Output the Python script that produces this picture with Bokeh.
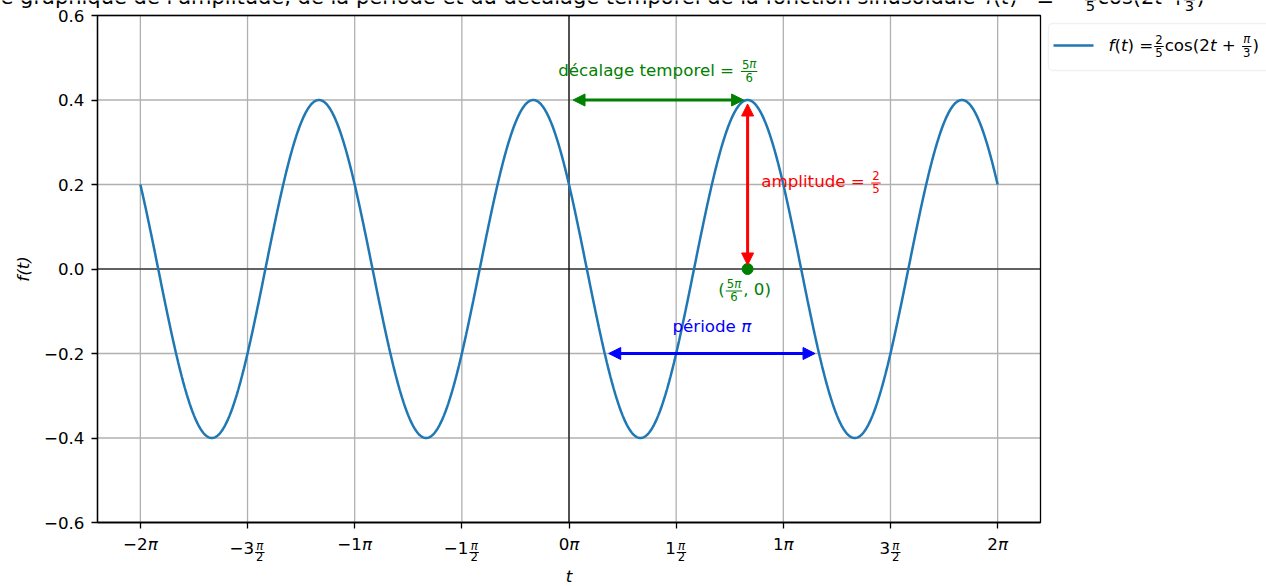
import numpy as np
from bokeh.plotting import figure
from bokeh.models import (Label, Arrow, NormalHead, FixedTicker, BoxAnnotation,
                          Range1d, CustomJSTickFormatter)
from bokeh.embed import file_html
from bokeh.resources import INLINE

# ---------------- data ----------------
AMPLITUDE = 2 / 5          # 2/5
OMEGA = 2.0                # 2t
PHASE = np.pi / 3          # + pi/3
T_START = -2 * np.pi
T_END = 2 * np.pi
N_SAMPLES = 1201

SHIFT = 5 * np.pi / 6      # décalage temporel
PERIOD = np.pi             # période
PERIOD_START = np.pi / 6
PERIOD_LEVEL = -0.2

X_TICK_VALUES = [k * np.pi / 2 for k in range(-4, 5)]
X_TICK_LABELS = ["−2π", "−3π/2", "−1π", "−1π/2", "0π", "1π/2", "1π", "3π/2", "2π"]
Y_TICK_VALUES = [-0.6, -0.4, -0.2, 0.0, 0.2, 0.4, 0.6]
Y_TICK_LABELS = ["−0.6", "−0.4", "−0.2", "0.0", "0.2", "0.4", "0.6"]

TITLE_TEXT = ("Analyse graphique de l'amplitude, de la période et du décalage "
              "temporel de la fonction sinusoïdale")

# ---------------- layout ----------------
W, H = 1266, 586
FL, FR, FT, FB = 97, 1040, 15, 522          # plotting area inside the canvas
XLO = T_START - 0.05 * (T_END - T_START)
XHI = T_END + 0.05 * (T_END - T_START)
YLO, YHI = -0.6, 0.6
FONT = "DejaVu Sans"
FS = 16.7
CURVE = "#1f77b4"
BASE_K = 0.47     # correction so that labels sit on the wanted baseline


def X(px):
    return XLO + (px - FL) / (FR - FL) * (XHI - XLO)


def Y(py):
    return YHI - (py - FT) / (FB - FT) * (YHI - YLO)


def PX(x):
    return FL + (x - XLO) / (XHI - XLO) * (FR - FL)


def PY(y):
    return FT + (YHI - y) / (YHI - YLO) * (FB - FT)


ADV = {' ': 651, '(': 799, ')': 799, ',': 651, '.': 651, '=': 1716, '+': 1716, '−': 1716,
       "'": 563, 'a': 1255, 'b': 1300, 'c': 1126, 'd': 1300, 'e': 1260, 'f': 721, 'g': 1300,
       'h': 1298, 'i': 569, 'j': 569, 'k': 1186, 'l': 569, 'm': 1995, 'n': 1298, 'o': 1253,
       'p': 1300, 'q': 1300, 'r': 842, 's': 1067, 't': 803, 'u': 1298, 'v': 1212, 'w': 1675,
       'x': 1212, 'y': 1212, 'z': 1075, 'é': 1260, 'ï': 569, 'A': 1401, 'R': 1423, 'π': 1233}
for d in "0123456789":
    ADV[d] = 1303


def tw(s, size):
    return sum(ADV.get(c, 1200) for c in s) / 2048 * size


# the frame covers the whole canvas; axes are pinned at the plotting-area edges
p = figure(width=W, height=H, output_backend="svg", toolbar_location=None,
           x_range=Range1d(X(0), X(W)), y_range=Range1d(Y(H), Y(0)),
           min_border=0)
p.background_fill_color = "white"
p.border_fill_color = "white"
p.outline_line_color = None
p.grid.visible = False

for ax in (p.xaxis[0], p.yaxis[0]):
    ax.axis_line_color = "black"
    ax.axis_line_width = 1.3
    ax.major_tick_line_color = "black"
    ax.major_tick_line_width = 1.3
    ax.major_tick_in = 0
    ax.major_tick_out = 6
    ax.minor_tick_line_color = None
    ax.major_label_text_font = FONT
    ax.major_label_text_font_size = f"{FS}px"
    ax.major_label_text_color = "black"

p.xaxis.fixed_location = YLO
p.xaxis.bounds = (XLO, XHI)
p.xaxis.ticker = FixedTicker(ticks=X_TICK_VALUES, minor_ticks=[])
p.xaxis.formatter = CustomJSTickFormatter(code="return ''")
p.yaxis.fixed_location = XLO
p.yaxis.bounds = (YLO, YHI)
p.yaxis.ticker = FixedTicker(ticks=Y_TICK_VALUES, minor_ticks=[])
p.yaxis.major_label_overrides = {v: s for v, s in zip(Y_TICK_VALUES, Y_TICK_LABELS)}
p.yaxis.major_label_standoff = 7

# grid lines at the tick positions
p.segment(x0=X_TICK_VALUES, y0=[YLO] * len(X_TICK_VALUES), x1=X_TICK_VALUES,
          y1=[YHI] * len(X_TICK_VALUES), line_color="#b0b0b0", line_width=1.3, level="underlay")
p.segment(x0=[XLO] * len(Y_TICK_VALUES), y0=Y_TICK_VALUES, x1=[XHI] * len(Y_TICK_VALUES),
          y1=Y_TICK_VALUES, line_color="#b0b0b0", line_width=1.3, level="underlay")
# zero lines
p.segment(x0=[XLO, 0], y0=[0, YLO], x1=[XHI, 0], y1=[0, YHI], line_color="black",
          line_width=1.2, level="underlay")
# plotting-area box
p.quad(left=[XLO], right=[XHI], bottom=[YLO], top=[YHI], fill_color=None,
       line_color="black", line_width=1.3)

# curve
t = np.linspace(T_START, T_END, N_SAMPLES)
f = AMPLITUDE * np.cos(OMEGA * t + PHASE)
p.line(t, f, line_color=CURVE, line_width=2.5)


# ---------------- text helpers ----------------
def lab(px, py, txt, size, color, style="normal", align="left"):
    p.add_layout(Label(x=X(px), y=Y(py - BASE_K * size), text=txt, text_font=FONT,
                       text_font_size=f"{size:.1f}px", text_font_style=style,
                       text_color=color, text_align=align, text_baseline="alphabetic"))


def hbar(x0, x1, py, color, w=1.0):
    p.add_layout(Arrow(x_start=X(x0), y_start=Y(py), x_end=X(x1), y_end=Y(py),
                       start=None, end=None, line_color=color, line_width=w))


def runs(text, math):
    if not math:
        return [(text, "normal")]
    out = []
    for ch in text:
        st = "italic" if ((ch.isascii() and ch.isalpha()) or ch == "π") else "normal"
        if out and out[-1][1] == st:
            out[-1] = (out[-1][0] + ch, st)
        else:
            out.append((ch, st))
    return out


def place_runs(x, py, text, size, color, math):
    for s, st in runs(text, math):
        body = s.lstrip(" ")
        lead = tw(s[:len(s) - len(body)], size)
        if body.strip():
            lab(x + lead, py, body.rstrip(" "), size, color, style=st)
        x += tw(s, size)
    return x


def frac_w(num, den, size):
    fs = size * 0.7
    return max(tw(num, fs), tw(den, fs)) + 4


def frac(cx, base, num, den, size, color, bar_dy=-6.0, num_dy=-2.0, den_dy=11.0):
    fs = size * 0.7
    w = frac_w(num, den, size)
    bar = base + bar_dy
    for txt, d in ((num, num_dy), (den, den_dy)):
        place_runs(cx - tw(txt, fs) / 2, bar + d, txt, fs, color, True)
    hbar(cx - w / 2 + 1, cx + w / 2 - 1, bar, color)


def mixed(parts, anchor, base, size, color, align="left", **fk):
    widths = [frac_w(pt[1], pt[2], size) if pt[0] == "frac" else tw(pt[1], size)
              for pt in parts]
    total = sum(widths)
    x = anchor - {"left": 0, "center": total / 2, "right": total}[align]
    for pt, w in zip(parts, widths):
        if pt[0] == "frac":
            frac(x + w / 2, base, pt[1], pt[2], size, color, **fk)
        else:
            place_runs(x, base, pt[1], size, color, pt[0] == "m")
        x += w


# ---------------- annotations ----------------
def arrow(x0, y0, x1, y1, color):
    p.add_layout(Arrow(x_start=x0, y_start=y0, x_end=x1, y_end=y1,
                       start=NormalHead(size=12, fill_color=color, line_color=color, line_width=1),
                       end=NormalHead(size=12, fill_color=color, line_color=color, line_width=1),
                       line_color=color, line_width=3))


dx = (XHI - XLO) / (FR - FL) * 4
dy = (YHI - YLO) / (FB - FT) * 4
arrow(0 + dx, AMPLITUDE, SHIFT - dx, AMPLITUDE, "green")
arrow(PERIOD_START + dx, PERIOD_LEVEL, PERIOD_START + PERIOD - dx, PERIOD_LEVEL, "blue")
arrow(SHIFT, 0 + dy, SHIFT, AMPLITUDE - dy, "red")
p.scatter([SHIFT], [0], size=11, color="green")

mixed([("p", "décalage temporel = "), ("frac", "5π", "6")],
      PX(SHIFT / 2), PY(AMPLITUDE) - 22.5, FS, "green", align="center")
mixed([("p", "amplitude = "), ("frac", "2", "5")],
      PX(SHIFT + 0.2), PY(AMPLITUDE / 2) + 4.5, FS, "red", align="left")
mixed([("m", "("), ("frac", "5π", "6"), ("m", ", 0)")],
      PX(SHIFT) - 3, PY(0) + 28, FS, "green", align="center")
mixed([("p", "période "), ("m", "π")],
      PX(PERIOD_START + PERIOD / 2), PY(PERIOD_LEVEL) - 20, FS, "blue", align="center")

# x tick labels (integer part followed by π or by the fraction π/2)
for v, s in zip(X_TICK_VALUES, X_TICK_LABELS):
    if s.endswith("π/2"):
        mixed([("m", s[:-3]), ("frac", "π", "2")], PX(v), 555, FS, "black",
              align="center", bar_dy=-3, num_dy=-1.5, den_dy=9)
    else:
        mixed([("m", s)], PX(v), 551, FS, "black", align="center")

# axis labels
p.add_layout(Label(x=X(22), y=0, text="f(t)", text_font=FONT, text_font_size=f"{FS}px",
                   text_font_style="italic", text_color="black", text_align="center",
                   text_baseline="middle", angle=np.pi / 2))
lab(PX(0), 583, "t", FS, "black", style="italic", align="center")

# title (mostly above the canvas, as in the reference)
TS = 21.0
TB = 6.5
TK = dict(bar_dy=-7, num_dy=-2, den_dy=13)
lab(975, TB, TITLE_TEXT, TS, "black", align="right")
place_runs(985, TB, "f(t)", TS, "black", True)
lab(1036, TB + 3, "=", TS, "black")
frac(1090, TB, "2", "5", TS, "black", **TK)
xx = place_runs(1097, TB, "cos", TS, "black", False)
place_runs(xx, TB, "(2t +", TS, "black", True)
frac(1189, TB, "π", "3", TS, "black", **TK)
lab(1196, TB, ")", TS, "black")

# legend
p.add_layout(BoxAnnotation(left=X(1048), right=X(1300), top=Y(23), bottom=Y(70),
                           fill_color="white", fill_alpha=1, line_color="#d0d0d0",
                           line_width=1.3, border_radius=4))
p.add_layout(Arrow(x_start=X(1053), y_start=Y(45), x_end=X(1093), y_end=Y(45),
                   start=None, end=None, line_color=CURVE, line_width=2.5))
mixed([("m", "f(t) ="), ("frac", "2", "5"), ("p", "cos"), ("m", "(2t + "),
       ("frac", "π", "3"), ("m", ")")], 1108, 52, FS, "black", align="left")

open("out.html", "w").write(file_html(p, INLINE))
